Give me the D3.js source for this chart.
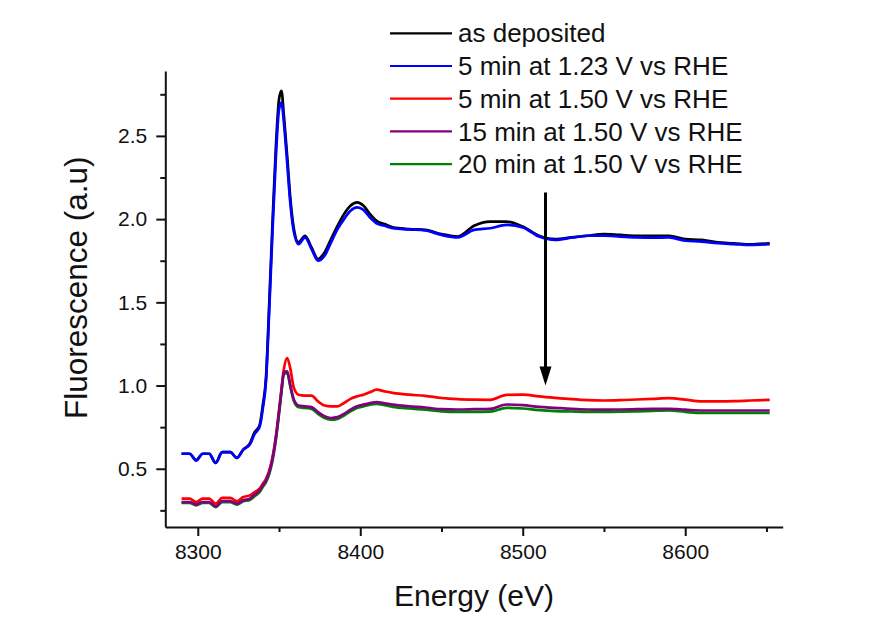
<!DOCTYPE html>
<html>
<head>
<meta charset="utf-8">
<script src="https://cdn.jsdelivr.net/npm/d3@7/dist/d3.min.js"></script>
<style>
  html, body { margin: 0; padding: 0; background: #fff; }
  svg { display: block; font-family: "Liberation Sans", Arial, sans-serif; }
</style>
</head>
<body>
<svg id="chart" width="896" height="627"></svg>
<script>
// Excitation energy (eV) shared by every scan
const energy = [
  8290, 8295, 8299, 8303, 8307, 8311, 8315, 8320, 8324, 8328,
  8332, 8335, 8338, 8340, 8342, 8344, 8346, 8348, 8350, 8351.5,
  8353, 8355, 8357, 8359, 8362, 8366, 8370, 8374, 8378, 8382,
  8386, 8390, 8394, 8398, 8402, 8406, 8410, 8415, 8420, 8430,
  8440, 8450, 8460, 8470, 8480, 8490, 8500, 8510, 8520, 8530,
  8540, 8550, 8560, 8570, 8580, 8590, 8600, 8610, 8620, 8630,
  8640, 8652
];

// Fluorescence (a.u) for each treatment
const asDeposited = [
  0.59, 0.59, 0.55, 0.59, 0.59, 0.535, 0.60, 0.60, 0.565, 0.615,
  0.65, 0.72, 0.76, 0.88, 1.05, 1.50, 1.98, 2.42, 2.72, 2.77,
  2.62, 2.38, 2.12, 1.95, 1.86, 1.90, 1.83, 1.76, 1.80, 1.88,
  1.96, 2.03, 2.08, 2.10, 2.08, 2.03, 1.99, 1.97, 1.95, 1.94,
  1.935, 1.91, 1.895, 1.96, 1.985, 1.985, 1.955, 1.90, 1.88, 1.89,
  1.90, 1.91, 1.905, 1.90, 1.90, 1.90, 1.88, 1.875, 1.86, 1.855,
  1.848, 1.855
];
const min5At123 = [
  0.59, 0.59, 0.55, 0.59, 0.59, 0.535, 0.60, 0.60, 0.565, 0.615,
  0.645, 0.71, 0.75, 0.86, 1.03, 1.46, 1.93, 2.36, 2.66, 2.70,
  2.58, 2.34, 2.09, 1.93, 1.85, 1.89, 1.82, 1.75, 1.78, 1.86,
  1.94, 2.00, 2.05, 2.07, 2.055, 2.01, 1.975, 1.96, 1.945, 1.938,
  1.932, 1.905, 1.89, 1.935, 1.945, 1.965, 1.95, 1.895, 1.875, 1.888,
  1.90, 1.90, 1.895, 1.89, 1.888, 1.89, 1.87, 1.865, 1.855, 1.85,
  1.845, 1.85
];
const min5At150 = [
  0.32, 0.32, 0.30, 0.32, 0.32, 0.29, 0.325, 0.325, 0.305, 0.33,
  0.34, 0.36, 0.38, 0.41, 0.44, 0.49, 0.57, 0.69, 0.85, 0.98,
  1.10, 1.165, 1.10, 0.99, 0.945, 0.94, 0.94, 0.905, 0.88, 0.875,
  0.875, 0.895, 0.92, 0.935, 0.945, 0.96, 0.975, 0.965, 0.956, 0.945,
  0.938, 0.925, 0.918, 0.915, 0.914, 0.944, 0.946, 0.935, 0.926, 0.918,
  0.912, 0.91, 0.912, 0.916, 0.92, 0.924, 0.915, 0.905, 0.905, 0.906,
  0.91, 0.914
];
const min15At150 = [
  0.30, 0.30, 0.285, 0.30, 0.30, 0.274, 0.305, 0.306, 0.29, 0.31,
  0.32, 0.345, 0.37, 0.40, 0.43, 0.48, 0.56, 0.68, 0.84, 0.97,
  1.08, 1.085, 1.00, 0.92, 0.88, 0.875, 0.87, 0.84, 0.815, 0.805,
  0.81, 0.83, 0.855, 0.875, 0.885, 0.895, 0.90, 0.893, 0.885, 0.875,
  0.868, 0.858, 0.856, 0.858, 0.86, 0.886, 0.882, 0.872, 0.866, 0.86,
  0.856, 0.855, 0.856, 0.858, 0.86, 0.86, 0.855, 0.85, 0.85, 0.85,
  0.85, 0.85
];
const min20At150 = [
  0.295, 0.295, 0.28, 0.295, 0.295, 0.27, 0.30, 0.30, 0.285, 0.305,
  0.312, 0.335, 0.36, 0.39, 0.42, 0.47, 0.55, 0.67, 0.83, 0.96,
  1.07, 1.075, 0.99, 0.91, 0.87, 0.865, 0.86, 0.83, 0.805, 0.795,
  0.80, 0.82, 0.845, 0.865, 0.875, 0.885, 0.89, 0.882, 0.872, 0.862,
  0.855, 0.845, 0.842, 0.842, 0.843, 0.866, 0.862, 0.852, 0.846, 0.844,
  0.842, 0.842, 0.843, 0.845, 0.848, 0.85, 0.842, 0.835, 0.835, 0.835,
  0.835, 0.835
];

const seriesNames = [
  "as deposited",
  "5 min at 1.23 V vs RHE",
  "5 min at 1.50 V vs RHE",
  "15 min at 1.50 V vs RHE",
  "20 min at 1.50 V vs RHE"
];
const seriesColors = ["#000000", "#0000ff", "#ff0000", "#800080", "#008000"];
const seriesValues = [asDeposited, min5At123, min5At150, min15At150, min20At150];

const xMajorTicks = [8300, 8400, 8500, 8600];
const xMinorTicks = [8350, 8450, 8550, 8650];
const yMajorTicks = [0.5, 1.0, 1.5, 2.0, 2.5];
const yMinorTicks = [0.25, 0.75, 1.25, 1.75, 2.25, 2.75];

// Arrow marking the trend between the scans
const arrowEnergy = 8514;
const arrowFrom = 2.16;
const arrowTo = 1.0;

const svg = d3.select("#chart");
const plot = { left: 165.3, right: 782.7, top: 71, bottom: 527 };

const x = d3.scaleLinear().domain([8280, 8660]).range([plot.left, plot.right]);
const y = d3.scaleLinear().domain([0.15, 2.89]).range([plot.bottom, plot.top]);

// Curves: draw order keeps blue above black and purple above green
const drawOrder = [0, 1, 2, 4, 3];
const line = d3.line()
  .x((d, i) => x(energy[i]))
  .y(d => y(d))
  .curve(d3.curveMonotoneX);

svg.append("g")
  .selectAll("path")
  .data(drawOrder)
  .join("path")
  .attr("d", k => line(seriesValues[k]))
  .attr("fill", "none")
  .attr("stroke", k => seriesColors[k])
  .attr("stroke-width", 2.7)
  .attr("stroke-linejoin", "round");

// Axes
function styleAxis(g) {
  g.selectAll(".domain").attr("stroke", "#111").attr("stroke-width", 2);
  g.selectAll(".tick line").attr("stroke", "#111").attr("stroke-width", 2);
  g.selectAll(".tick text").attr("fill", "#111")
    .style("font-family", "'Liberation Sans', Arial, sans-serif")
    .style("font-size", "21px");
}

const xAxis = svg.append("g")
  .attr("transform", `translate(0,${plot.bottom})`)
  .call(d3.axisBottom(x).tickValues(xMajorTicks).tickFormat(d3.format("d"))
    .tickSize(9).tickSizeOuter(0).tickPadding(8));
styleAxis(xAxis);
const xMinor = svg.append("g")
  .attr("transform", `translate(0,${plot.bottom})`)
  .call(d3.axisBottom(x).tickValues(xMinorTicks).tickFormat("").tickSize(5));
xMinor.select(".domain").remove();
styleAxis(xMinor);

const yAxis = svg.append("g")
  .attr("transform", `translate(${plot.left},0)`)
  .call(d3.axisLeft(y).tickValues(yMajorTicks).tickFormat(d3.format(".1f"))
    .tickSize(9).tickSizeOuter(0).tickPadding(9));
styleAxis(yAxis);
const yMinor = svg.append("g")
  .attr("transform", `translate(${plot.left},0)`)
  .call(d3.axisLeft(y).tickValues(yMinorTicks).tickFormat("").tickSize(5));
yMinor.select(".domain").remove();
styleAxis(yMinor);

// Axis titles
svg.append("text")
  .attr("x", (plot.left + plot.right) / 2)
  .attr("y", 606)
  .attr("text-anchor", "middle")
  .style("font-size", "30px")
  .attr("fill", "#111")
  .text("Energy (eV)");

svg.append("text")
  .attr("transform", "translate(87,419) rotate(-90)")
  .attr("text-anchor", "start")
  .style("font-size", "31.5px")
  .attr("fill", "#111")
  .text("Fluorescence (a.u)");

// Arrow: shaft plus a filled head ending at the target value
const ax = x(arrowEnergy);
const tipY = y(arrowTo);
const headLen = 19, headHalf = 6;
svg.append("line")
  .attr("x1", ax).attr("x2", ax)
  .attr("y1", y(arrowFrom)).attr("y2", tipY - headLen + 2)
  .attr("stroke", "#000")
  .attr("stroke-width", 3);
svg.append("path")
  .attr("d", `M${ax - headHalf},${tipY - headLen} L${ax + headHalf},${tipY - headLen} L${ax},${tipY} Z`)
  .attr("fill", "#000");

// Legend
const legend = svg.append("g").attr("transform", "translate(390,33.3)");
const rows = legend.selectAll("g")
  .data(seriesNames)
  .join("g")
  .attr("transform", (d, i) => `translate(0,${i * 32.7})`);
rows.append("line")
  .attr("x1", 0).attr("x2", 62)
  .attr("y1", 0).attr("y2", 0)
  .attr("stroke", (d, i) => seriesColors[i])
  .attr("stroke-width", 2.2);
rows.append("text")
  .attr("x", 68)
  .attr("y", 0)
  .attr("dy", "0.35em")
  .style("font-size", "26px")
  .attr("fill", "#111")
  .text(d => d);
</script>
</body>
</html>
